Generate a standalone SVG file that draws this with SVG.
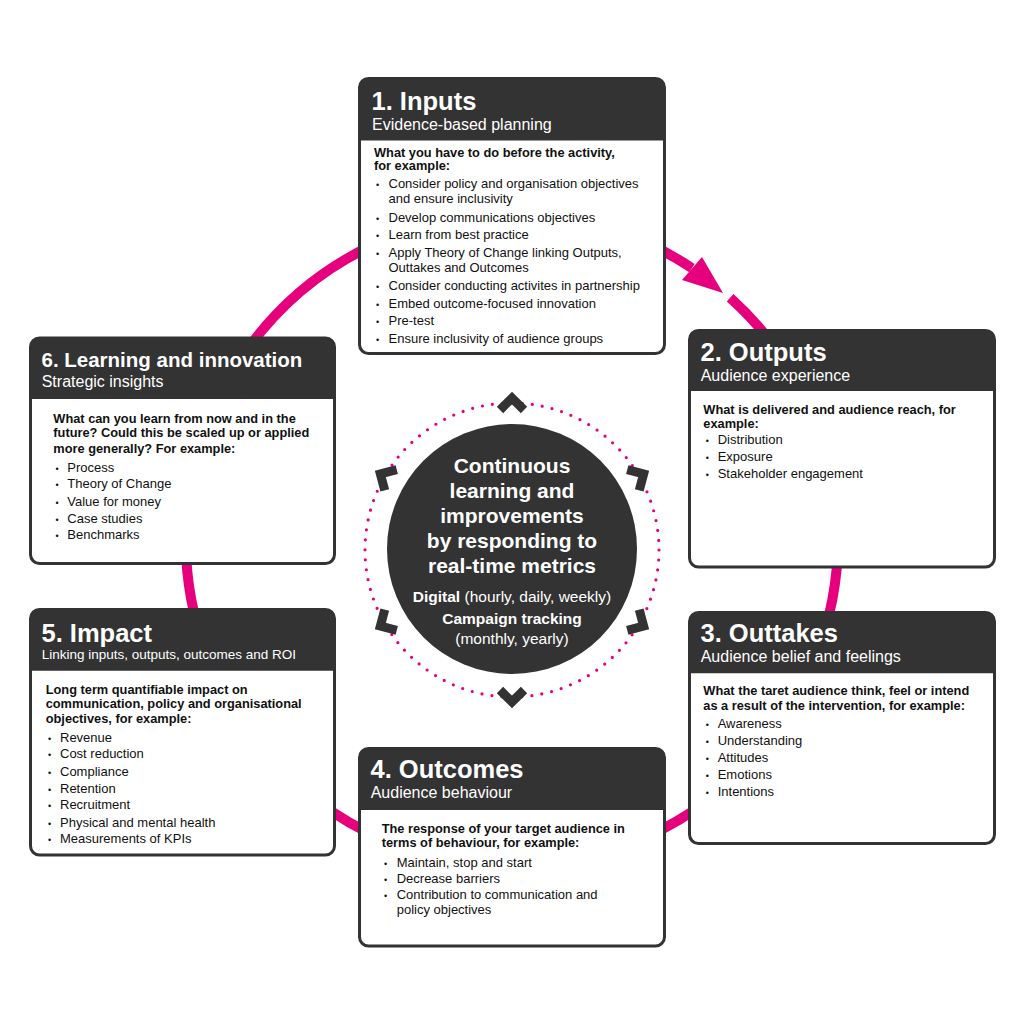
<svg xmlns="http://www.w3.org/2000/svg" xmlns:xlink="http://www.w3.org/1999/xlink" width="1024" height="1016" viewBox="0 0 1024 1016">
<style>
.t{font-family:"Liberation Sans",Arial,Helvetica,sans-serif}
.box{fill:#fff;stroke:#333;stroke-width:3}
.hdr{fill:#333}
.title{font-weight:bold;font-size:25.5px;fill:#fff}
.sub{font-size:16px;fill:#fff}
.lead{font-weight:bold;font-size:12.8px;fill:#111}
.item{font-size:13px;fill:#111}
.dot{font-size:9px;fill:#111}
.ctr{font-weight:bold;font-size:21px;fill:#fff;text-anchor:middle}
.csm{font-size:15.5px;fill:#fff;text-anchor:middle}
.ring{fill:none;stroke:#E6007E;stroke-width:10}
</style>
<defs>
<path id="chev" d="M500,410 L512,398 L524,410" fill="none" stroke="#333" stroke-width="9"/>
</defs>
<rect width="1024" height="1016" fill="#fff"/>
<g id="connectors">
<path class="ring" d="M730.1,297.7 A326,326 0 1 1 691.9,268.1"/>
<polygon points="702,257 682,280 723,293" fill="#E6007E"/>
</g>
<g id="center">
<circle cx="512" cy="550" r="147" fill="none" stroke="#E6007E" stroke-width="3.2" stroke-linecap="round" stroke-dasharray="0 10.04"/>
<use xlink:href="#chev"/>
<use xlink:href="#chev" transform="rotate(60 512 550)"/>
<use xlink:href="#chev" transform="rotate(120 512 550)"/>
<use xlink:href="#chev" transform="rotate(180 512 550)"/>
<use xlink:href="#chev" transform="rotate(-120 512 550)"/>
<use xlink:href="#chev" transform="rotate(-60 512 550)"/>
<circle cx="512" cy="549" r="125" fill="#333"/>
<g class="t">
<text class="ctr" x="512" y="473.3">Continuous</text>
<text class="ctr" x="512" y="498.3">learning and</text>
<text class="ctr" x="512" y="523.3">improvements</text>
<text class="ctr" x="512" y="548.3">by responding to</text>
<text class="ctr" x="512" y="573.3">real-time metrics</text>
<text class="csm" x="512" y="602.3"><tspan font-weight="bold">Digital</tspan> (hourly, daily, weekly)</text>
<text class="csm" x="512" y="624.3" font-weight="bold" font-size="16px">Campaign tracking</text>
<text class="csm" x="512" y="644.3">(monthly, yearly)</text>
</g>
</g>
<g id="node-inputs" class="t">
<rect class="box" x="359.5" y="78.5" width="305" height="275" rx="9"/>
<path class="hdr" d="M359.5,87.5 A9,9 0 0 1 368.5,78.5 H655.5 A9,9 0 0 1 664.5,87.5 V140.5 H359.5 Z"/>
<text class="title" x="371.5" y="110">1. Inputs</text>
<text class="sub" x="372" y="130">Evidence-based planning</text>
<text class="lead" x="374" y="156.7">What you have to do before the activity,</text>
<text class="lead" x="374" y="170">for example:</text>
<text class="dot" x="376" y="188.3">•</text><text class="item" x="388.5" y="188.3">Consider policy and organisation objectives</text>
<text class="item" x="388.5" y="203.3">and ensure inclusivity</text>
<text class="dot" x="376" y="221.7">•</text><text class="item" x="388.5" y="221.7">Develop communications objectives</text>
<text class="dot" x="376" y="239">•</text><text class="item" x="388.5" y="239">Learn from best practice</text>
<text class="dot" x="376" y="256.7">•</text><text class="item" x="388.5" y="256.7">Apply Theory of Change linking Outputs,</text>
<text class="item" x="388.5" y="271.7">Outtakes and Outcomes</text>
<text class="dot" x="376" y="290">•</text><text class="item" x="388.5" y="290">Consider conducting activites in partnership</text>
<text class="dot" x="376" y="307.7">•</text><text class="item" x="388.5" y="307.7">Embed outcome-focused innovation</text>
<text class="dot" x="376" y="325">•</text><text class="item" x="388.5" y="325">Pre-test</text>
<text class="dot" x="376" y="342.7">•</text><text class="item" x="388.5" y="342.7">Ensure inclusivity of audience groups</text>
</g>
<g id="node-outputs" class="t">
<rect class="box" x="689.5" y="330.5" width="305" height="236.5" rx="9"/>
<path class="hdr" d="M689.5,339.5 A9,9 0 0 1 698.5,330.5 H985.5 A9,9 0 0 1 994.5,339.5 V391 H689.5 Z"/>
<text class="title" x="700.5" y="361">2. Outputs</text>
<text class="sub" x="700.7" y="381">Audience experience</text>
<text class="lead" x="703.3" y="414.3">What is delivered and audience reach, for</text>
<text class="lead" x="703.3" y="427.7">example:</text>
<text class="dot" x="705.7" y="444.3">•</text><text class="item" x="717.7" y="444.3">Distribution</text>
<text class="dot" x="705.7" y="461">•</text><text class="item" x="717.7" y="461">Exposure</text>
<text class="dot" x="705.7" y="477.7">•</text><text class="item" x="717.7" y="477.7">Stakeholder engagement</text>
</g>
<g id="node-outtakes" class="t">
<rect class="box" x="689.5" y="612.5" width="305" height="231" rx="9"/>
<path class="hdr" d="M689.5,621.5 A9,9 0 0 1 698.5,612.5 H985.5 A9,9 0 0 1 994.5,621.5 V673.3 H689.5 Z"/>
<text class="title" x="700.5" y="642.3">3. Outtakes</text>
<text class="sub" x="700.7" y="661.7">Audience belief and feelings</text>
<text class="lead" x="703.3" y="695">What the taret audience think, feel or intend</text>
<text class="lead" x="703.3" y="710">as a result of the intervention, for example:</text>
<text class="dot" x="705.7" y="728.3">•</text><text class="item" x="717.7" y="728.3">Awareness</text>
<text class="dot" x="705.7" y="745">•</text><text class="item" x="717.7" y="745">Understanding</text>
<text class="dot" x="705.7" y="762.3">•</text><text class="item" x="717.7" y="762.3">Attitudes</text>
<text class="dot" x="705.7" y="779">•</text><text class="item" x="717.7" y="779">Emotions</text>
<text class="dot" x="705.7" y="795.7">•</text><text class="item" x="717.7" y="795.7">Intentions</text>
</g>
<g id="node-outcomes" class="t">
<rect class="box" x="359.5" y="748.5" width="305" height="197.5" rx="9"/>
<path class="hdr" d="M359.5,757.5 A9,9 0 0 1 368.5,748.5 H655.5 A9,9 0 0 1 664.5,757.5 V810 H359.5 Z"/>
<text class="title" x="370.5" y="778.3">4. Outcomes</text>
<text class="sub" x="370.7" y="798.3">Audience behaviour</text>
<text class="lead" x="381.7" y="832.7">The response of your target audience in</text>
<text class="lead" x="381.7" y="847.3">terms of behaviour, for example:</text>
<text class="dot" x="384" y="866.7">•</text><text class="item" x="396.7" y="866.7">Maintain, stop and start</text>
<text class="dot" x="384" y="882.7">•</text><text class="item" x="396.7" y="882.7">Decrease barriers</text>
<text class="dot" x="384" y="899.3">•</text><text class="item" x="396.7" y="899.3">Contribution to communication and</text>
<text class="item" x="396.7" y="914">policy objectives</text>
</g>
<g id="node-impact" class="t">
<rect class="box" x="30.5" y="609.5" width="304" height="245.5" rx="9"/>
<path class="hdr" d="M30.5,618.5 A9,9 0 0 1 39.5,609.5 H325.5 A9,9 0 0 1 334.5,618.5 V670.7 H30.5 Z"/>
<text class="title" x="41.5" y="641.7">5. Impact</text>
<text class="sub" x="41.7" y="659.3" font-size="13.5px" style="font-size:13.5px">Linking inputs, outputs, outcomes and ROI</text>
<text class="lead" x="45.7" y="694">Long term quantifiable impact on</text>
<text class="lead" x="45.7" y="708.3">communication, policy and organisational</text>
<text class="lead" x="45.7" y="722.7">objectives, for example:</text>
<text class="dot" x="48" y="741.7">•</text><text class="item" x="60" y="741.7">Revenue</text>
<text class="dot" x="48" y="758.3">•</text><text class="item" x="60" y="758.3">Cost reduction</text>
<text class="dot" x="48" y="775.7">•</text><text class="item" x="60" y="775.7">Compliance</text>
<text class="dot" x="48" y="792.7">•</text><text class="item" x="60" y="792.7">Retention</text>
<text class="dot" x="48" y="809.3">•</text><text class="item" x="60" y="809.3">Recruitment</text>
<text class="dot" x="48" y="826.7">•</text><text class="item" x="60" y="826.7">Physical and mental health</text>
<text class="dot" x="48" y="843.3">•</text><text class="item" x="60" y="843.3">Measurements of KPIs</text>
</g>
<g id="node-learning" class="t">
<rect class="box" x="30.5" y="338" width="304" height="225.5" rx="9"/>
<path class="hdr" d="M30.5,347 A9,9 0 0 1 39.5,338 H325.5 A9,9 0 0 1 334.5,347 V399 H30.5 Z"/>
<text class="title" x="41.5" y="366.7" style="font-size:20.5px">6. Learning and innovation</text>
<text class="sub" x="41.7" y="386.7">Strategic insights</text>
<text class="lead" x="53.3" y="422.7">What can you learn from now and in the</text>
<text class="lead" x="53.3" y="437.3">future? Could this be scaled up or applied</text>
<text class="lead" x="53.3" y="452.7">more generally? For example:</text>
<text class="dot" x="55.5" y="471.7">•</text><text class="item" x="67.3" y="471.7">Process</text>
<text class="dot" x="55.5" y="488.3">•</text><text class="item" x="67.3" y="488.3">Theory of Change</text>
<text class="dot" x="55.5" y="505.7">•</text><text class="item" x="67.3" y="505.7">Value for money</text>
<text class="dot" x="55.5" y="522.7">•</text><text class="item" x="67.3" y="522.7">Case studies</text>
<text class="dot" x="55.5" y="539.3">•</text><text class="item" x="67.3" y="539.3">Benchmarks</text>
</g>
</svg>
